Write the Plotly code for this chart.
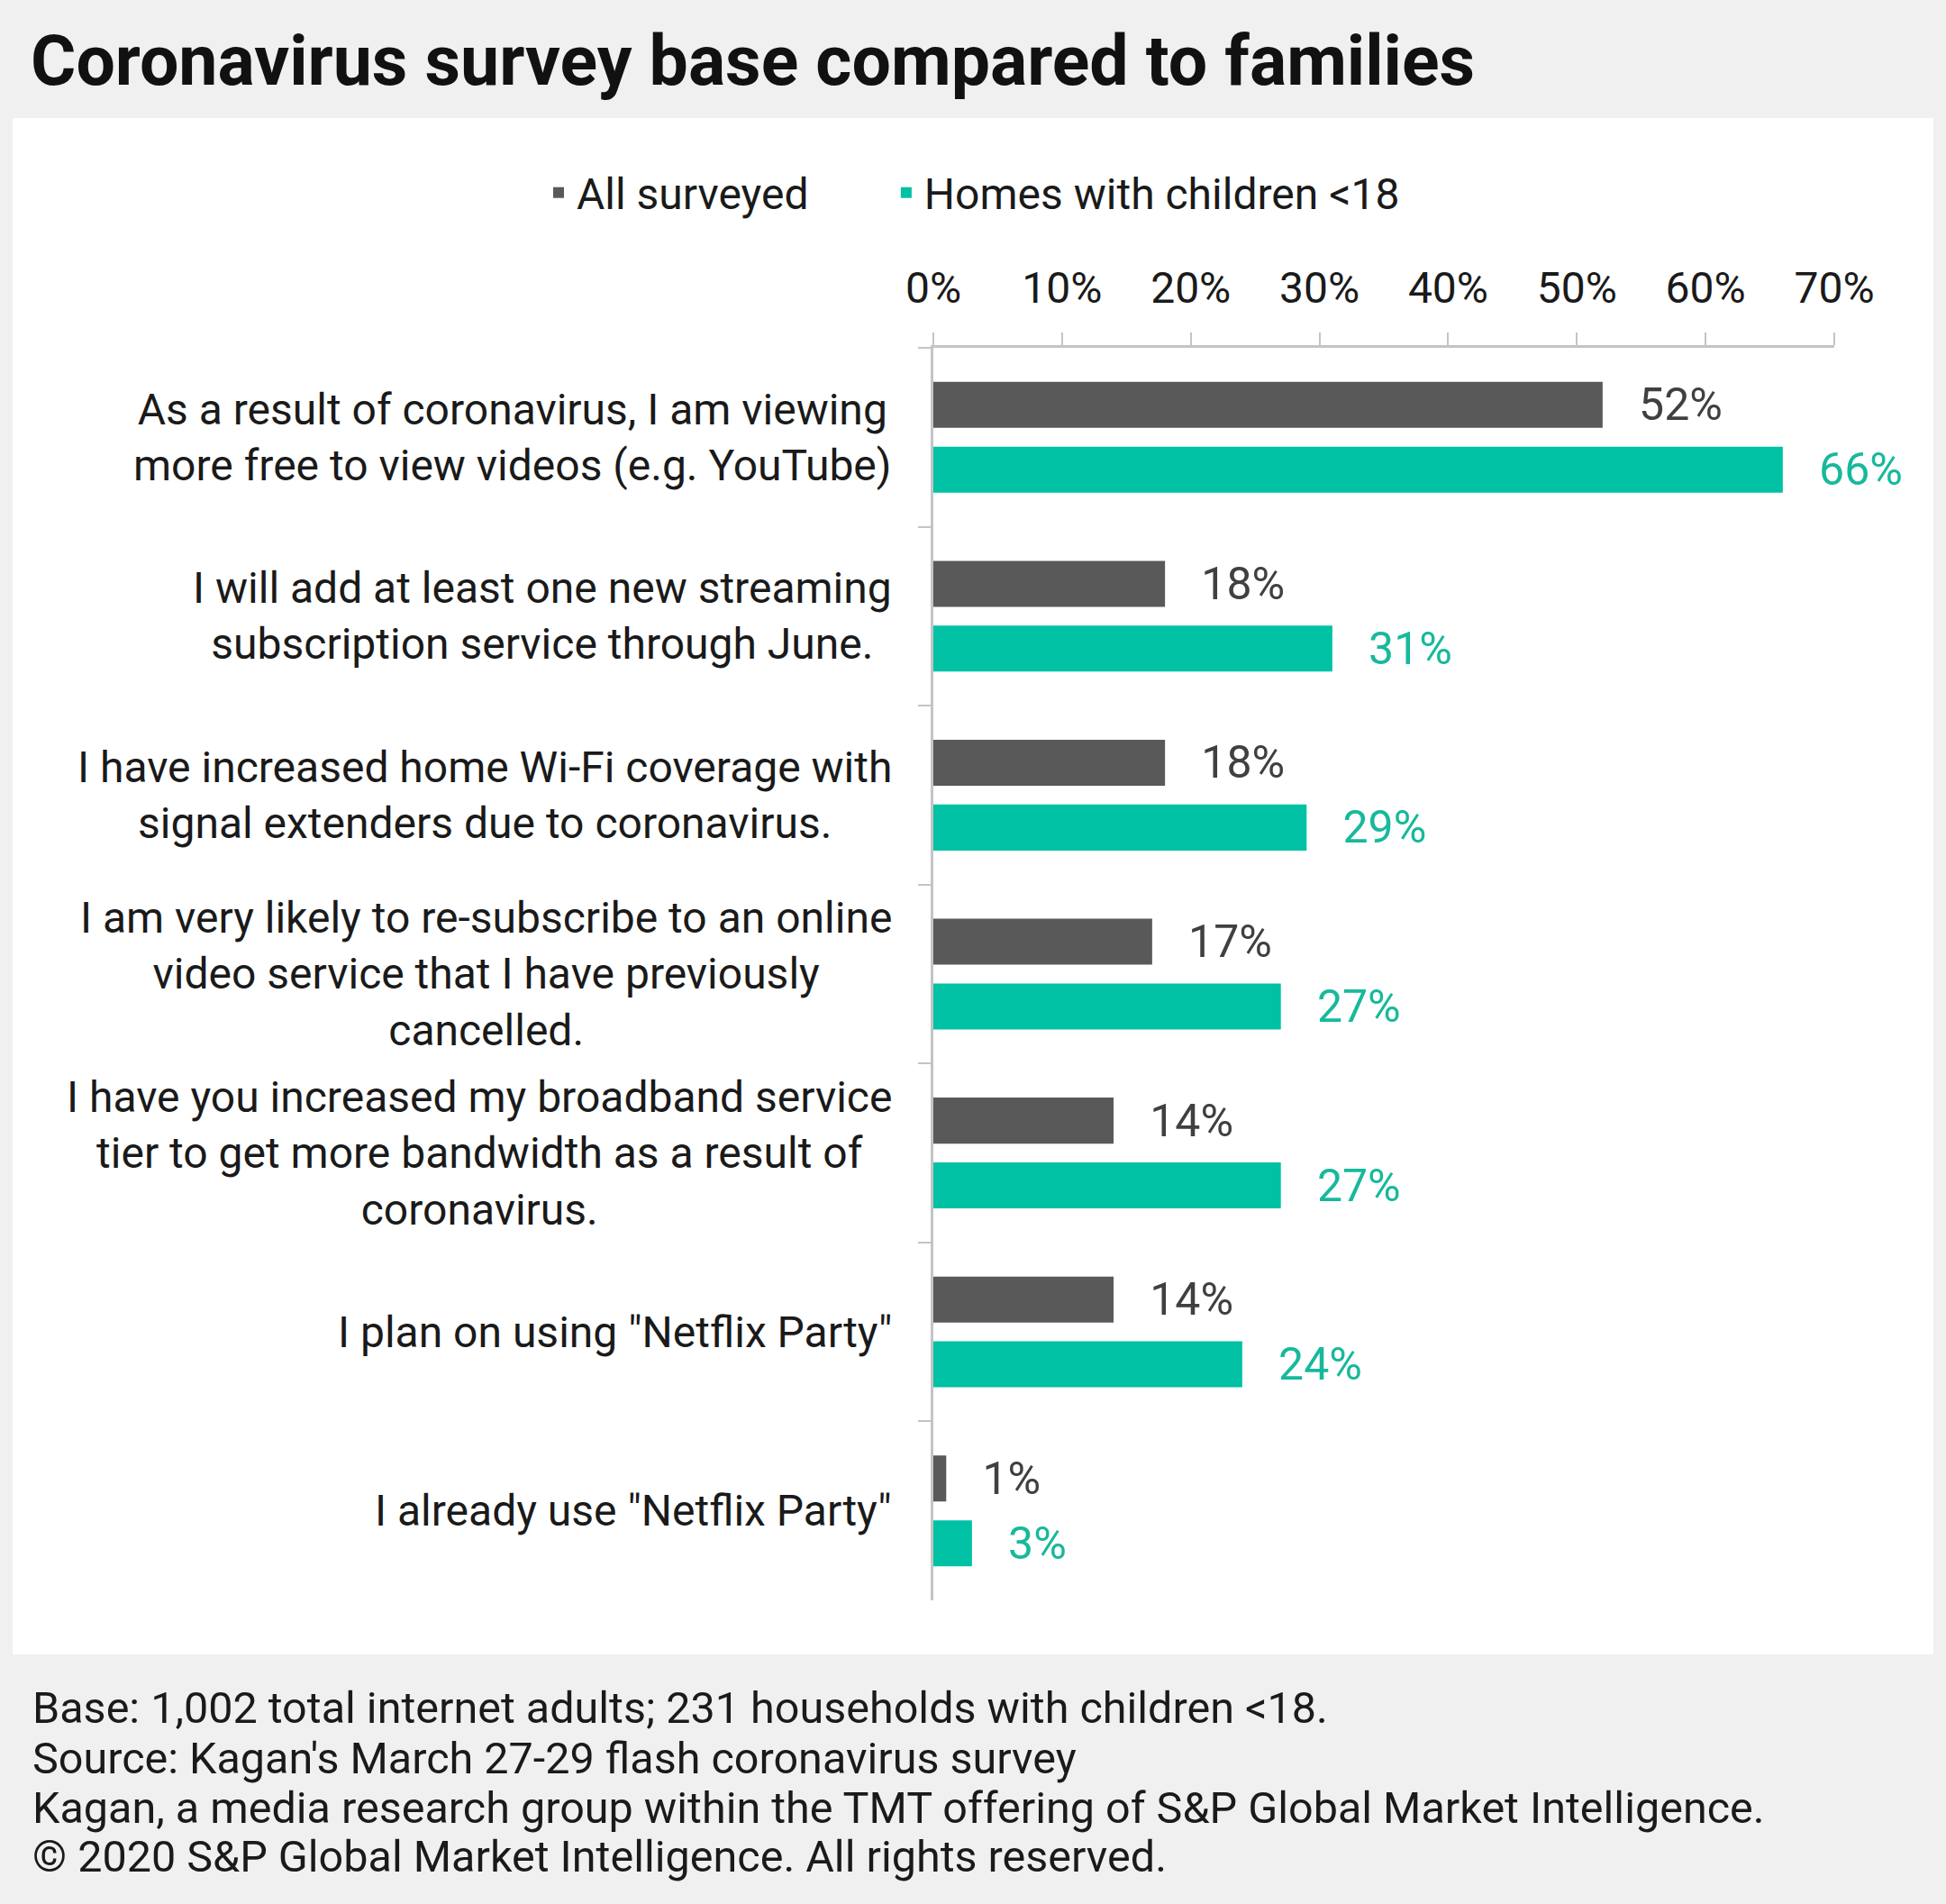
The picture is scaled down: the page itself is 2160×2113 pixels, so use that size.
import plotly.graph_objects as go

# ---------------- data ----------------
categories = [
    "As a result of coronavirus, I am viewing<br>more free to view videos (e.g. YouTube)",
    "I will add at least one new streaming<br>subscription service through June.",
    "I have increased home Wi-Fi coverage with<br>signal extenders due to coronavirus.",
    "I am very likely to re-subscribe to an online<br>video service that I have previously<br>cancelled.",
    "I have you increased my broadband service<br>tier to get more bandwidth as a result of<br>coronavirus.",
    'I plan on using "Netflix Party"',
    'I already use "Netflix Party"',
]
all_surveyed = [52, 18, 18, 17, 14, 14, 1]
homes_with_children = [66, 31, 29, 27, 27, 24, 3]
series_names = ["All surveyed", "Homes with children <18"]
x_ticks = [0, 10, 20, 30, 40, 50, 60, 70]
x_tick_labels = ["0%", "10%", "20%", "30%", "40%", "50%", "60%", "70%"]

title_text = "Coronavirus survey base compared to families"
footer_lines = [
    "Base: 1,002 total internet adults; 231 households with children <18.",
    "Source: Kagan's March 27-29 flash coronavirus survey",
    "Kagan, a media research group within the TMT offering of S&P Global Market Intelligence.",
    "\u00a9 2020 S&P Global Market Intelligence. All rights reserved.",
]

# ---------------- styles ----------------
W, H = 2160, 2113
ML, MR, MT, MB = 1036, 124, 386, 337
PW, PH = W - ML - MR, H - MT - MB
FONT = "Roboto"
GRAY = "#595959"
TEAL = "#00C1A4"
GRAY_LBL = "#404040"
TEAL_LBL = "#17B99B"
AXIS = "#c4c4c4"
TXT = "#1a1a1a"


def px_x(x):
    return (x - ML) / PW


def px_y(y):
    return (H - MB - y) / PH


pad = "\u00a0\u00a0\u00a0"
NBSP = "\u00a0"

fig = go.Figure()
fig.add_trace(go.Bar(
    y=categories, x=all_surveyed, orientation="h",
    name=series_names[0] + NBSP * 7,
    marker=dict(color=GRAY, line=dict(width=0)),
    text=[f"{v}%" for v in all_surveyed],
    texttemplate=pad + "%{text}", textposition="outside", constraintext="none",
    textfont=dict(family=FONT, size=50, color=GRAY_LBL), cliponaxis=False,
))
fig.add_trace(go.Bar(
    y=categories, x=homes_with_children, orientation="h", name=series_names[1],
    marker=dict(color=TEAL, line=dict(width=0)),
    text=[f"{v}%" for v in homes_with_children],
    texttemplate=pad + "%{text}", textposition="outside", constraintext="none",
    textfont=dict(family=FONT, size=50, color=TEAL_LBL), cliponaxis=False,
))

annotations = []
for c in categories:
    annotations.append(dict(
        x=0, xref="paper", y=c, yref="y", xanchor="right", yanchor="middle",
        xshift=-44, text=c, showarrow=False, align="center",
        font=dict(family=FONT, size=48, color=TXT),
    ))
for i, (line, yy) in enumerate(zip(footer_lines, [1896, 1951, 2006, 2060])):
    annotations.append(dict(
        x=px_x(34), xref="paper", y=px_y(yy), yref="paper", xanchor="left",
        yanchor="middle", text=line, showarrow=False, align="left",
        font=dict(family=FONT, size=48.5, color=TXT),
    ))

fig.update_layout(
    width=W, height=H, autosize=False,
    margin=dict(l=ML, r=MR, t=MT, b=MB, pad=0),
    paper_bgcolor="#f0f0f0", plot_bgcolor="white",
    barmode="group", bargap=0.276, bargroupgap=0.29,
    font=dict(family=FONT, color=TXT),
    title=dict(text=title_text, x=34 / W, xref="container", xanchor="left",
               y=1 - 67 / H, yref="container", yanchor="middle",
               font=dict(family=FONT, size=77, color="#111111", weight="bold")),
    legend=dict(orientation="h", xref="container", yref="container",
                x=600 / W, y=1 - 214 / H, xanchor="left", yanchor="middle",
                font=dict(family=FONT, size=48, color=TXT),
                bgcolor="rgba(0,0,0,0)", traceorder="normal"),
    xaxis=dict(side="top", range=[0, 70], tickmode="array", tickvals=x_ticks,
               ticktext=x_tick_labels,
               ticks="outside", ticklen=14, tickwidth=2, tickcolor=AXIS,
               showline=True, linecolor=AXIS, linewidth=3, showgrid=False,
               zeroline=False, fixedrange=True, ticklabelstandoff=14,
               tickfont=dict(family=FONT, size=48, color=TXT)),
    yaxis=dict(type="category", categoryorder="array", categoryarray=categories,
               autorange="reversed", showticklabels=False, ticks="outside",
               tickson="boundaries", ticklen=14, tickwidth=2, tickcolor=AXIS,
               showline=True, linecolor=AXIS, linewidth=3, showgrid=False,
               zeroline=False, fixedrange=True),
    annotations=annotations,
    shapes=[dict(type="rect", xref="paper", yref="paper", layer="below",
                 x0=px_x(14), x1=px_x(2146), y0=px_y(1836), y1=px_y(131),
                 fillcolor="white", line=dict(width=0))],
    showlegend=True,
)

fig.write_html("out.html")
